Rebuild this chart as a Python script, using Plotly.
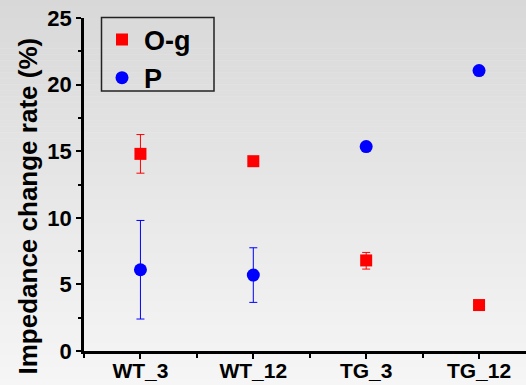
import plotly.graph_objects as go

# Groups on the x axis
groups = ["WT_3", "WT_12", "TG_3", "TG_12"]
xpos = [1, 2, 3, 4]

# O-g series: mean and error bar extents (upper / lower)
og_vals = [14.8, 14.25, 6.8, 3.45]
og_err_plus = [1.45, 0.0, 0.6, 0.0]
og_err_minus = [1.45, 0.0, 0.65, 0.0]

# P series
p_vals = [6.1, 5.7, 15.35, 21.05]
p_err_plus = [3.7, 2.05, 0.0, 0.0]
p_err_minus = [3.7, 2.05, 0.0, 0.0]

y_ticks = [0, 5, 10, 15, 20, 25]

FONT = "Liberation Sans, Arial, sans-serif"

fig = go.Figure()

fig.add_trace(go.Scatter(
    x=xpos, y=og_vals, mode="markers", name="O-g",
    marker=dict(symbol="square", size=12, color="#ff0000"),
    error_y=dict(type="data", symmetric=False, array=og_err_plus,
                 arrayminus=og_err_minus, color="#ff0000", thickness=1, width=4),
))
fig.add_trace(go.Scatter(
    x=xpos, y=p_vals, mode="markers", name="P",
    marker=dict(symbol="circle", size=13, color="#0000ff"),
    error_y=dict(type="data", symmetric=False, array=p_err_plus,
                 arrayminus=p_err_minus, color="#0000ff", thickness=1, width=4),
))

# figure size and plot-area margins (pixels)
W, H = 526, 385
L, R, T, B = 84, 0, 18, 34
pw, ph = W - L - R, H - T - B


def px_x(x):
    return (x - L) / pw


def px_y(y):
    return (H - B - y) / ph


# soft vertical gray gradient behind the whole figure
n = 64
shapes = []
for i in range(n):
    y_top = i * H / n
    y_bot = (i + 1) * H / n
    frac = (y_top + y_bot) / 2 / H          # 0 top .. 1 bottom
    g = int(round(216 + (246 - 216) * frac))
    shapes.append(dict(
        type="rect", xref="paper", yref="paper", layer="below",
        x0=px_x(0), x1=px_x(W + 2),
        y0=px_y(y_bot + 0.5), y1=px_y(y_top),
        fillcolor=f"rgb({g},{g},{g})", line=dict(width=0),
    ))

# frame around the legend
shapes.append(dict(
    type="rect", xref="paper", yref="paper", layer="above",
    x0=px_x(101.5), x1=px_x(214), y0=px_y(91), y1=px_y(17.5),
    line=dict(color="#222222", width=1.5), fillcolor="rgba(0,0,0,0)",
))

fig.update_layout(
    width=W, height=H,
    margin=dict(l=L, r=R, t=T, b=B, pad=0, autoexpand=False),
    paper_bgcolor="rgba(0,0,0,0)", plot_bgcolor="rgba(0,0,0,0)",
    shapes=shapes,
    font=dict(family=FONT, color="black"),
    showlegend=True,
    legend=dict(
        x=px_x(100), y=px_y(15.5), xanchor="left", yanchor="top",
        bgcolor="rgba(0,0,0,0)", borderwidth=0,
        font=dict(family=FONT, size=27, color="black", weight="bold"),
        tracegroupgap=0, itemwidth=34,
    ),
    annotations=[dict(
        text="Impedance change rate (%)", textangle=-90,
        xref="paper", yref="paper", x=px_x(27.5), y=px_y(206),
        xanchor="center", yanchor="middle", showarrow=False,
        font=dict(family=FONT, size=26, color="black", weight="bold"),
    )],
    xaxis=dict(
        range=[0.5, 4.416], tickvals=xpos, ticktext=groups,
        showgrid=False, zeroline=False, automargin=False,
        showline=True, linecolor="black", linewidth=2.5,
        ticks="outside", ticklen=5, tickwidth=2, tickcolor="black",
        minor=dict(tick0=1.5, dtick=1, ticks="outside", ticklen=4,
                   tickwidth=2, tickcolor="black", showgrid=False),
        tickfont=dict(family=FONT, size=21, color="black", weight="bold"),
        ticklabelstandoff=-6,
    ),
    yaxis=dict(
        range=[0, 25], tickvals=y_ticks,
        showgrid=False, zeroline=False, automargin=False,
        showline=True, linecolor="black", linewidth=2.5,
        ticks="outside", ticklen=5, tickwidth=2, tickcolor="black",
        minor=dict(tick0=2.5, dtick=5, ticks="outside", ticklen=3,
                   tickwidth=2, tickcolor="black", showgrid=False),
        tickfont=dict(family=FONT, size=22, color="black", weight="bold"),
    ),
)

fig.write_html("out.html")
